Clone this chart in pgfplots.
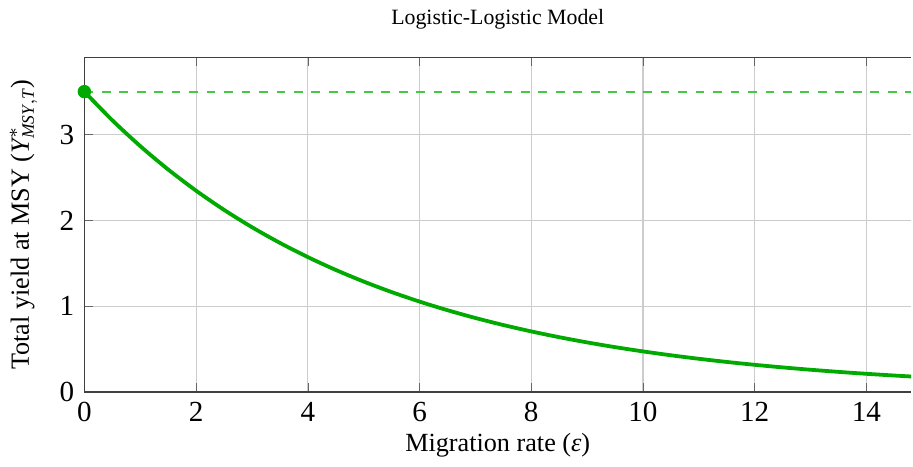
\documentclass[border=0pt]{standalone}
\usepackage{amsmath}
\usepackage{fontspec}
\setmainfont{Liberation Serif}
\usepackage{pgfplots}
\pgfplotsset{compat=1.18}
\definecolor{curvegreen}{RGB}{0,170,0}
\definecolor{dashgreen}{RGB}{70,200,70}
\begin{document}
\begin{tikzpicture}
\begin{axis}[
  scale only axis,
  width=284pt, height=115pt,
  xmin=0, xmax=14.8, ymin=0, ymax=3.9,
  xtick={0,2,4,6,8,10,12,14},
  ytick={0,1,2,3},
  axis x line*=box, axis y line*=left,
  axis line style={black!75},
  grid=major,
  grid style={gray!40, line width=0.4pt},
  major tick length=3pt,
  tick style={black!60},
  tick align=inside,
  /pgf/number format/assume math mode=true,
  tick label style={font=\fontsize{10}{12}\selectfont},
  label style={font=\fontsize{9}{11}\selectfont},
  title style={font=\fontsize{7.5}{9}\selectfont, yshift=0pt},
  title={Logistic-Logistic Model},
  xlabel={Migration rate (\textit{ε})},
  ylabel={Total yield at MSY ($\textit{Y}^{*}_{\textit{MSY},\textit{T}}$)},
  ylabel style={yshift=0.8pt},
  xlabel style={yshift=3pt},
  clip=false,
]
% reference level at MSY without migration
\addplot[dashgreen, dashed, line width=0.6pt] coordinates {(0,3.5) (14.8,3.5)};
% total yield versus migration rate
\addplot[curvegreen, line width=1.3pt, smooth] coordinates {
(0,3.5) (0.5,3.1669) (1,2.8656) (1.5,2.5929) (2,2.3461) (2.5,2.1229)
(3,1.9208) (3.5,1.7381) (4,1.5727) (4.5,1.4230) (5,1.2876) (5.5,1.1651)
(6,1.0542) (6.5,0.9539) (7,0.8631) (7.5,0.7810) (8,0.7066) (8.5,0.6394)
(9,0.5786) (9.5,0.5235) (10,0.4737) (10.5,0.4286) (11,0.3878) (11.5,0.3509)
(12,0.3175) (12.5,0.2873) (13,0.2600) (13.5,0.2353) (14,0.2128) (14.5,0.1926)
(14.8,0.1814)
};
\addplot[curvegreen, only marks, mark=*, mark size=2.1pt] coordinates {(0,3.5)};
\end{axis}
\end{tikzpicture}
\end{document}
